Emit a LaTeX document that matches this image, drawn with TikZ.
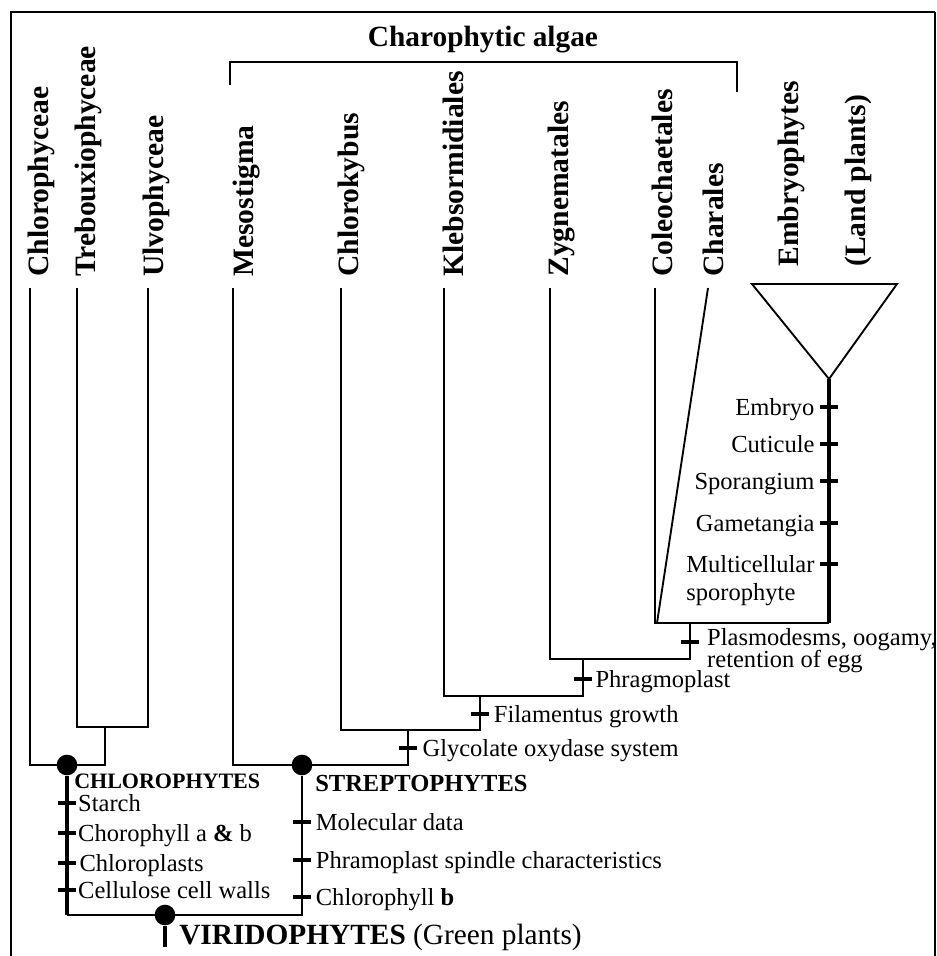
\documentclass[tikz,border=0pt]{standalone}
\usepackage{fontspec}
\setmainfont{Liberation Serif}
\usetikzlibrary{positioning}

\begin{document}
\begin{tikzpicture}[x=0.75pt, y=-0.75pt,
    branch/.style={line width=1.4pt},
    stem/.style={line width=2.4pt},
    ball/.style={circle, fill, inner sep=0pt, minimum size=15.5pt},
    tick/.style={fill, inner sep=0pt, minimum width=13pt, minimum height=3pt},
    taxon/.style={rotate=90, anchor=base west, inner sep=0pt,
                  font=\fontsize{22.2}{26}\selectfont\bfseries},
    ann/.style={inner sep=0pt, text height=12.2pt, text depth=0pt,
                font=\fontsize{18.4}{22}\selectfont},
    group/.style={anchor=west, inner sep=0pt, text depth=0pt},
]
\useasboundingbox (0,0) rectangle (936,956);
\draw[line width=2pt] (11,960) -- (11,12) -- (935,12);
\draw[line width=0.8pt] (935,12) -- (935,960);

% charophytic algae bracket
\node[inner sep=0pt, text height=14.9pt, text depth=0pt,
      font=\fontsize{22}{26}\selectfont\bfseries] (algae) at (483,37) {Charophytic algae};
\coordinate (brl) at (230,85);
\coordinate (brr) at (737,92);
\draw[branch] (brl) -- (230,62) -- (737,62) -- (brr);

% taxa
\node[taxon] at (48,277) {Chlorophyceae};
\node[taxon] at (95,277) {Trebouxiophyceae};
\node[taxon] at (163,277) {Ulvophyceae};
\node[taxon] at (253,277) {Mesostigma};
\node[taxon] at (358,277) {Chlorokybus};
\node[taxon] at (463,277) {Klebsormidiales};
\node[taxon] at (568,277) {Zygnematales};
\node[taxon] at (672,277) {Coleochaetales};
\node[taxon] at (723,277) {Charales};
\node[taxon] at (798,267) {Embryophytes};
\node[taxon] at (865,267) {(Land plants)};

\coordinate (chlc) at (30,288);
\coordinate (treb) at (77,288);
\coordinate (ulvo) at (148,288);
\coordinate (meso) at (233,288);
\coordinate (chky) at (341,288);
\coordinate (kleb) at (444,288);
\coordinate (zygn) at (550,288);
\coordinate (cole) at (655,288);
\coordinate (char) at (708,288);

% junctions
\coordinate (tuj) at (105,727);
\coordinate (tub) at (105,765);
\coordinate (gly) at (408,765);
\coordinate (glyj) at (408,730);
\coordinate (fil) at (480,730);
\coordinate (filj) at (480,696);
\coordinate (phr) at (583,696);
\coordinate (phrj) at (583,659);
\coordinate (pla) at (690,659);
\coordinate (plaj) at (690,623);
\coordinate (emb) at (829,623);
\coordinate (chb) at (657,623);
\coordinate (tri) at (829,379);
\coordinate (tril) at (752,284);
\coordinate (trir) at (897,284);
\coordinate (cbot) at (67,915);
\coordinate (sbot) at (302,915);
\coordinate (vroot) at (165,947);

\node[ball] (cball) at (67,765) {};
\node[ball] (sball) at (302,765) {};
\node[ball] (vball) at (165,915) {};

\draw[branch] (treb) |- (tuj) -| (ulvo);
\draw[branch] (chlc) |- (tub) -- (tuj);
\draw[branch] (meso) |- (gly) -- (glyj);
\draw[branch] (chky) |- (fil) -- (filj);
\draw[branch] (kleb) |- (phr) -- (phrj);
\draw[branch] (zygn) |- (pla) -- (plaj);
\draw[branch] (cole) |- (emb);
\draw[branch] (char) -- (chb);
\draw[stem] (emb) -- (tri);
\draw[branch, line join=miter] (tri) -- (tril) -- (trir) -- cycle;
\draw[stem] (cball) -- (cbot);
\draw[branch] (cbot) -- (sbot) -- (sball);
\draw[stem, line width=3pt] (vball) -- (vroot);

% characters
\node[tick] (c1) at (67,803) {};
\node[tick] (c2) at (67,833) {};
\node[tick] (c3) at (67,863) {};
\node[tick] (c4) at (67,890) {};
\node[ann, right=1.5pt of c1] {Starch};
\node[ann, right=1.5pt of c2] {Chorophyll a \textbf{\&} b};
\node[ann, right=2.5pt of c3] {Chloroplasts};
\node[ann, right=1.5pt of c4] {Cellulose cell walls};

\node[tick] (s1) at (302,822) {};
\node[tick] (s2) at (302,860) {};
\node[tick] (s3) at (302,897) {};
\node[ann, right=3.5pt of s1] {Molecular data};
\node[ann, right=3.5pt of s2] {Phramoplast spindle characteristics};
\node[ann, right=3.5pt of s3] {Chlorophyll \textbf{b}};

\node[tick] (g1) at (408,748) {};
\node[tick] (f1) at (480,714) {};
\node[tick] (p1) at (583,679) {};
\node[tick] (o1) at (690,642) {};
\node[ann, right=4pt of g1] {Glycolate oxydase system};
\node[ann, right=3.5pt of f1] {Filamentus growth};
\node[ann, right=2.5pt of p1] {Phragmoplast};
\node[ann, right=6pt of o1, yshift=3.8pt] (plas) {Plasmodesms, oogamy,};
\node[ann, below right=4.2pt and 0pt of plas.south west] {retention of egg};

\node[tick] (e1) at (829,407) {};
\node[tick] (e2) at (829,444) {};
\node[tick] (e3) at (829,481) {};
\node[tick] (e4) at (829,523) {};
\node[tick] (e5) at (829,564) {};
\node[ann, left=4pt of e1] {Embryo};
\node[ann, left=4pt of e2] {Cuticule};
\node[ann, left=4pt of e3] {Sporangium};
\node[ann, left=4pt of e4] {Gametangia};
\node[ann, left=4pt of e5] (multi) {Multicellular};
\node[ann, below right=8.8pt and 0pt of multi.south west] {sporophyte};

% clades
\node[group, text height=11.2pt, font=\fontsize{16.5}{20}\selectfont\bfseries]
    (chlorophytes) at (74,781) {CHLOROPHYTES};
\node[group, text height=12.4pt, font=\fontsize{18.4}{22}\selectfont\bfseries]
    (streptophytes) at (315,783) {STREPTOPHYTES};
\node[group, text height=14.6pt, font=\fontsize{22}{26}\selectfont]
    (viridophytes) at (179,935) {\textbf{VIRIDOPHYTES} (Green plants)};
\end{tikzpicture}
\end{document}
